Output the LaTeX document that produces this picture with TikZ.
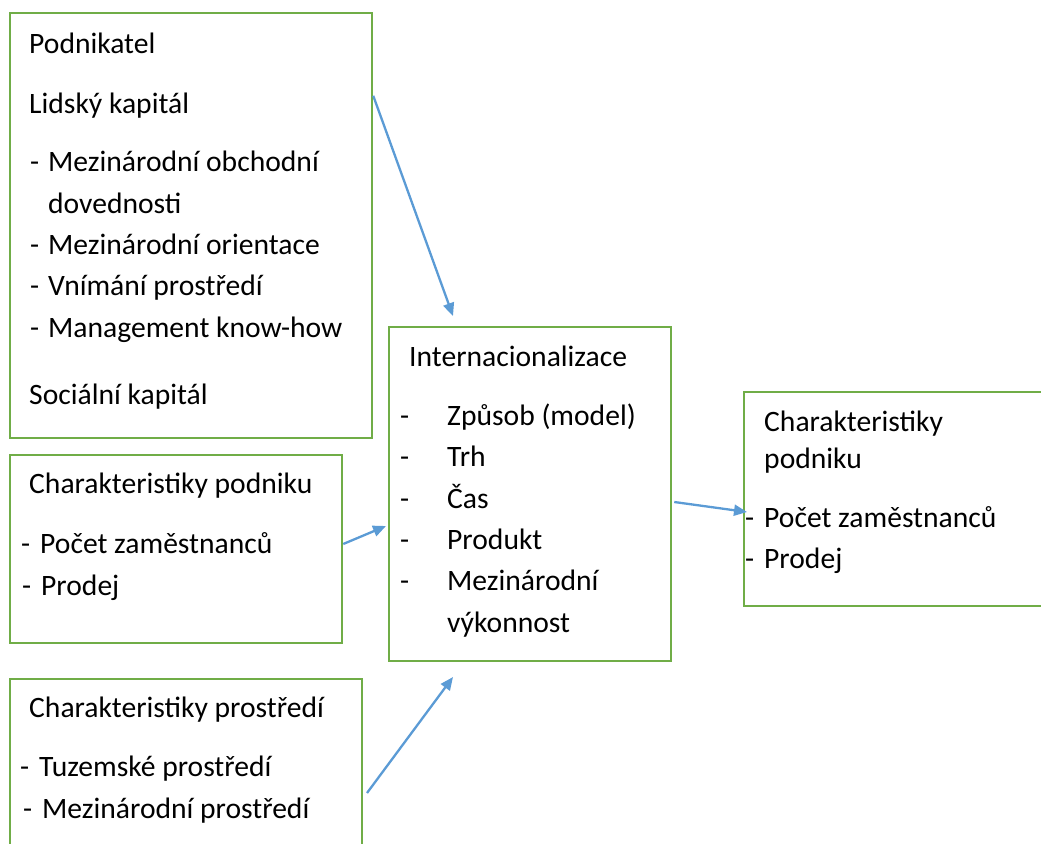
\documentclass[tikz,border=0pt]{standalone}
\usepackage{fontspec}
\setmainfont{Carlito}
\usetikzlibrary{arrows.meta, calc}
\definecolor{boxgreen}{HTML}{70AD47}
\definecolor{arrowblue}{HTML}{5B9BD5}
\tikzset{
  box/.style  = {draw=boxgreen, line width=2.5pt, inner sep=0pt},
  txt/.style  = {anchor=base west, inner sep=0pt, align=left,
                 font=\fontsize{29.6}{41.3}\selectfont},
  flow/.style = {-{Triangle[length=13pt, width=11pt]}, draw=arrowblue,
                 line width=2.3pt},
}
\newcommand{\itm}[1][18pt]{\makebox[#1][l]{-}}

\begin{document}
\begin{tikzpicture}[x=1pt, y=-1pt]
    \useasboundingbox (0,0) rectangle (1041,843);

    % boxes
    \node[box, minimum width=362pt, minimum height=425pt] (pod)  at (191,225.5) {};
    \node[box, minimum width=332pt, minimum height=188pt] (cpod) at (176,549) {};
    \node[box, minimum width=352pt, minimum height=191pt] (cpro) at (186,774.5) {};
    \node[box, minimum width=282pt, minimum height=334pt] (int)  at (530,494) {};
    \node[box, minimum width=316pt, minimum height=214pt] (char) at (902,499) {};

    % Podnikatel (text anchored at the baseline of its last line)
    \node[txt] (podT) at (29,113) {Podnikatel\\[18.5pt]Lidský kapitál};
    \node[txt] (podL) at (30,337) {\itm Mezinárodní obchodní\\
      \hspace*{18pt}dovednosti\\
      \itm Mezinárodní orientace\\
      \itm Vnímání prostředí\\
      \itm Management know-how};
    \node[txt] (podS) at (29,404) {Sociální kapitál};

    % Charakteristiky podniku
    \node[txt] (cpodT) at (29,493) {Charakteristiky podniku};
    \node[txt] (cpodL) at (21,595) {\itm[19pt]Počet zaměstnanců\\
      \hspace*{1pt}\itm[19pt]Prodej};

    % Charakteristiky prostredi
    \node[txt] (cproT) at (29,717) {Charakteristiky prostředí};
    \node[txt] (cproL) at (20,818) {\itm[19pt]Tuzemské prostředí\\
      \hspace*{3pt}\itm[19pt]Mezinárodní prostředí};

    % Internacionalizace
    \node[txt] (intT) at (409,366) {Internacionalizace};
    \node[txt] (intL) at (400,632) {\itm[47pt]Způsob (model)\\
      \itm[47pt]Trh\\
      \itm[47pt]Čas\\
      \itm[47pt]Produkt\\
      \itm[47pt]Mezinárodní\\
      \hspace*{47pt}výkonnost};

    % Charakteristiky podniku (vystup)
    \node[txt] (charT) at (764,468) {Charakteristiky\\[-5pt]podniku};
    \node[txt] (charL) at (745,568) {\itm[19pt]Počet zaměstnanců\\[-1pt]
      \itm[19pt]Prodej};

    % arrows
    \coordinate (t1) at (453,316);
    \coordinate (t2) at (386,526);
    \coordinate (s3) at (367,793);
    \coordinate (t3) at (453,677);
    \coordinate (t4) at (747,512);
    \draw[flow] ($(pod.north east)+(0,84)$) -- (t1);
    \draw[flow] ($(cpod.east)+(0,-5)$) -- (t2);
    \draw[flow] (s3) -- (t3);
    \draw[flow] ($(int.east)+(2,8)$) -- (t4);
\end{tikzpicture}
\end{document}
